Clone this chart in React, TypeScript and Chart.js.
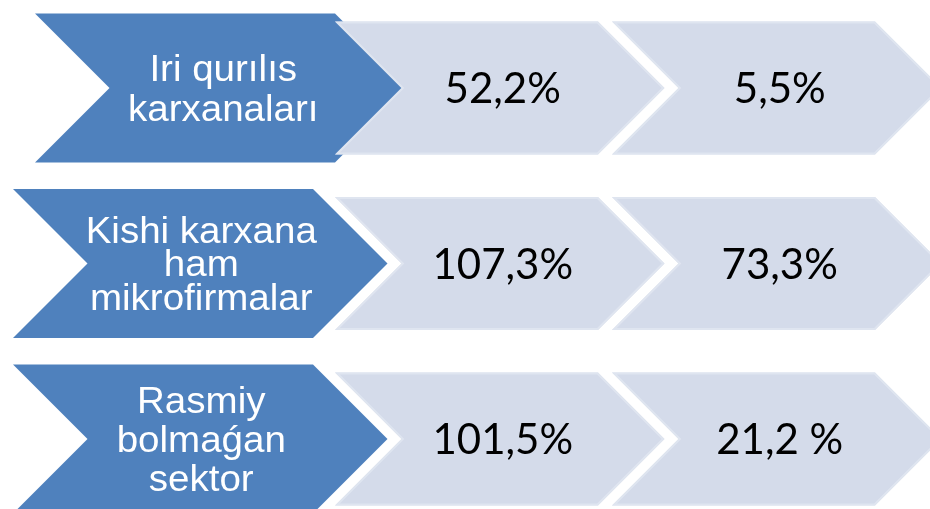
import React, { useEffect, useRef } from "react";
import { Chart, registerables } from "chart.js";

Chart.register(...registerables);

// ---- data ----
const categories = [
  "Iri qurılıs karxanaları",
  "Kishi karxana ham mikrofirmalar",
  "Rasmiy bolmaǵan sektor",
];
const categoryLines = [
  ["Iri qurılıs", "karxanaları"],
  ["Kishi karxana", "ham", "mikrofirmalar"],
  ["Rasmiy", "bolmaǵan", "sektor"],
];
const firstIndicator = [52.2, 107.3, 101.5];
const secondIndicator = [5.5, 73.3, 21.2];
const firstLabels = ["52,2%", "107,3%", "101,5%"];
const secondLabels = ["5,5%", "73,3%", "21,2 %"];
const stageNames = ["Sektor", "Ko'rsatkich 1", "Ko'rsatkich 2"];
const stageSpan = [1, 1, 1];

// ---- style ----
const BLUE = "#4F81BD";
const LIGHT = "#D4DBEA";
const LIGHT_EDGE = "rgba(224,229,241,0.9)";
const BLUE_HALF = 74.5;
const LIGHT_HALF = 66.5;
const BLUE_LEFT_EXTRA = 45;
const BLUE_RIGHT_INSET = 22;
const GAP = 14;
const ROW_SHIFT = [22, 0, 0];
const LINE_HEIGHTS = [40, 33.5, 39];
const LABEL_FONT = "36px 'Liberation Sans', Arial, sans-serif";
const LABEL_STRETCH = 1.07;
const LABEL_CAP = 25;
const VALUE_FONT = "42px Lato, 'Noto Sans', sans-serif";
const VALUE_CAP = 30;

function chevronPath(ctx: CanvasRenderingContext2D, left: number, right: number, cy: number, half: number) {
  ctx.beginPath();
  ctx.moveTo(left, cy - half);
  ctx.lineTo(right, cy - half);
  ctx.lineTo(right + half, cy);
  ctx.lineTo(right, cy + half);
  ctx.lineTo(left, cy + half);
  ctx.lineTo(left + half, cy);
  ctx.closePath();
}

const chevronPlugin = {
  id: "chevrons",
  afterDatasetsDraw(chart: any) {
    const ctx: CanvasRenderingContext2D = chart.ctx;
    const rows = chart.data.labels.length;
    const valueTexts = [firstLabels, secondLabels];
    ctx.save();
    for (let r = 0; r < rows; r++) {
      for (let s = 0; s < chart.data.datasets.length; s++) {
        const el = chart.getDatasetMeta(s).data[r];
        if (!el) continue;
        const { x, y, base } = el.getProps(["x", "y", "base"], true);
        if (s === 0) {
          const left = base - BLUE_LEFT_EXTRA + ROW_SHIFT[r];
          const right = x - BLUE_RIGHT_INSET + ROW_SHIFT[r];
          chevronPath(ctx, left, right, y, BLUE_HALF);
          ctx.fillStyle = BLUE;
          ctx.fill();
          const cx = (left + BLUE_HALF + right) / 2 + 1;
          const lines = categoryLines[r];
          const lh = LINE_HEIGHTS[r];
          const firstBase = y - ((lines.length - 1) * lh) / 2 + LABEL_CAP / 2;
          ctx.save();
          ctx.fillStyle = "#FFFFFF";
          ctx.font = LABEL_FONT;
          ctx.textAlign = "center";
          ctx.textBaseline = "alphabetic";
          ctx.translate(cx, 0);
          ctx.scale(LABEL_STRETCH, 1);
          lines.forEach((t, i) => ctx.fillText(t, 0, firstBase + i * lh));
          ctx.restore();
        } else {
          const left = base;
          const right = x - GAP;
          chevronPath(ctx, left, right, y, LIGHT_HALF);
          ctx.fillStyle = LIGHT;
          ctx.fill();
          ctx.save();
          ctx.clip();
          chevronPath(ctx, left, right, y, LIGHT_HALF);
          ctx.strokeStyle = LIGHT_EDGE;
          ctx.lineWidth = 4;
          ctx.stroke();
          ctx.restore();
          const cx = (left + LIGHT_HALF + right) / 2 + 3;
          ctx.fillStyle = "#000000";
          ctx.font = VALUE_FONT;
          ctx.textAlign = "center";
          ctx.textBaseline = "alphabetic";
          ctx.fillText(valueTexts[s - 1][r], cx, y + VALUE_CAP / 2);
        }
      }
    }
    ctx.restore();
  },
};

export default function App() {
  const canvasRef = useRef<HTMLCanvasElement | null>(null);

  useEffect(() => {
    document.body.style.margin = "0";
    document.body.style.overflow = "hidden";
    const canvas = canvasRef.current;
    if (!canvas) return;
    const chart = new Chart(canvas, {
      type: "bar",
      data: {
        labels: categories,
        datasets: stageNames.map((name, s) => ({
          label: name,
          data: stageSpan.slice(),
          values: s === 1 ? firstIndicator : s === 2 ? secondIndicator : null,
          backgroundColor: "rgba(0,0,0,0)",
          borderWidth: 0,
          barPercentage: 1,
          categoryPercentage: 1,
        })) as any,
      },
      options: {
        indexAxis: "y",
        animation: false,
        responsive: true,
        maintainAspectRatio: false,
        layout: { padding: { left: 58, right: 41, top: 88, bottom: 70 } },
        plugins: { legend: { display: false }, tooltip: { enabled: false }, title: { display: false } },
        scales: {
          x: { type: "linear", stacked: true, min: 0, max: 3, display: false },
          y: { type: "category", stacked: true, offset: false, display: false },
        },
      },
      plugins: [chevronPlugin],
    });
    return () => chart.destroy();
  }, []);

  return (
    <div style={{ position: "relative", width: 930, height: 509, background: "#FFFFFF" }}>
      <canvas ref={canvasRef} />
    </div>
  );
}
